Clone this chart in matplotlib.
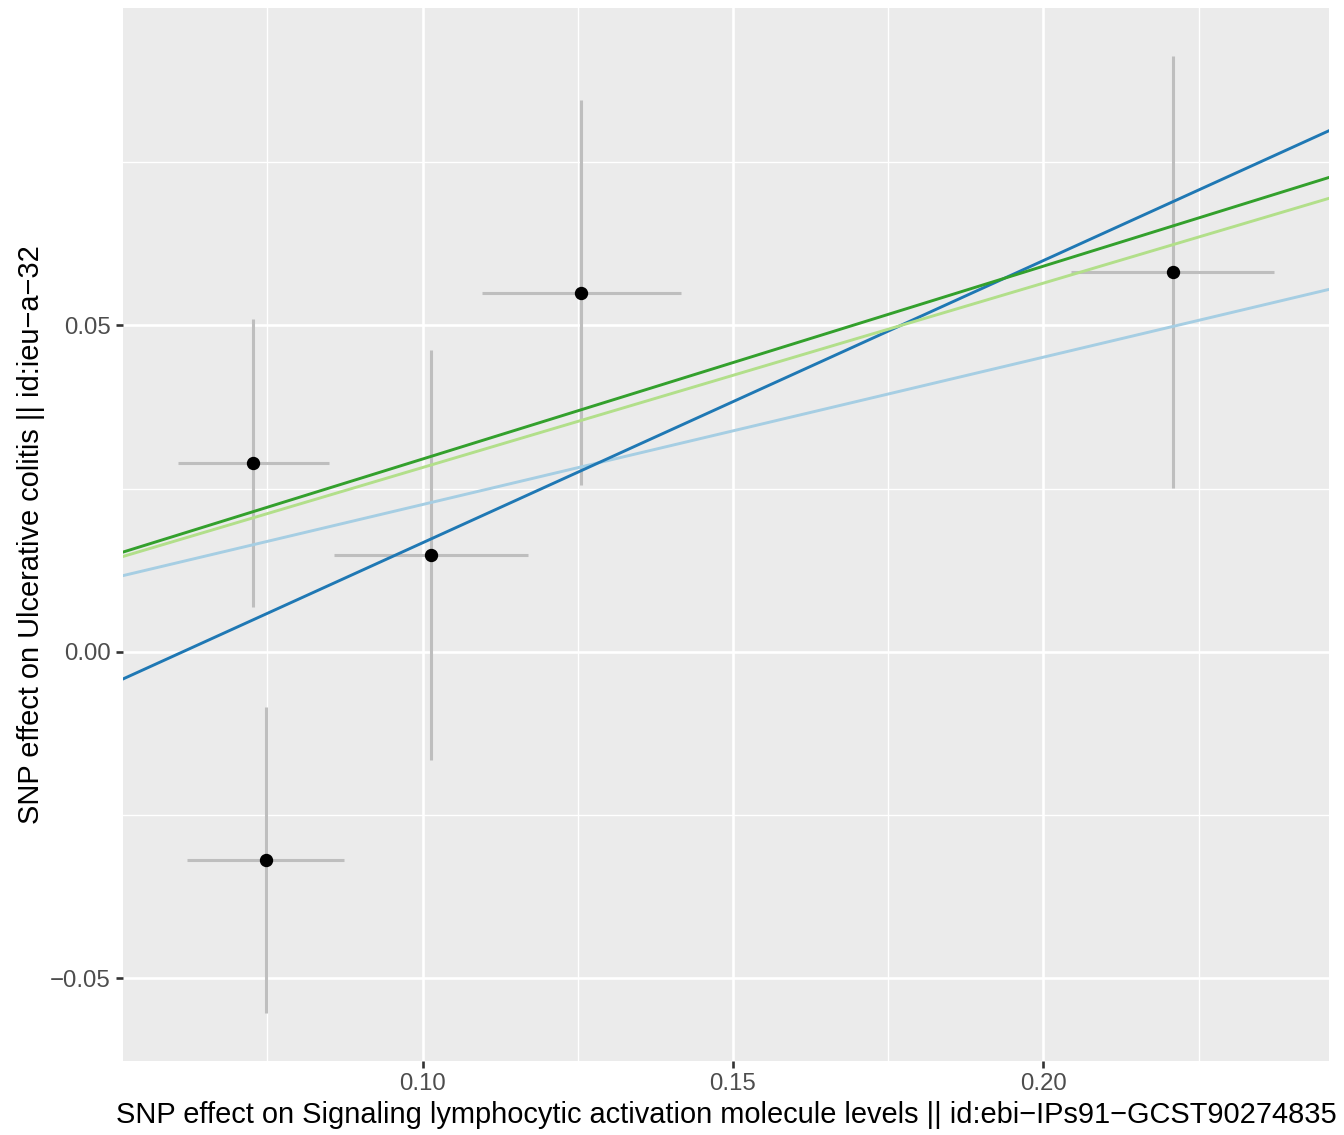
import numpy as np
import matplotlib
matplotlib.use("Agg")
import matplotlib.pyplot as plt

plt.rcParams['font.family'] = ['Liberation Sans', 'DejaVu Sans']

# SNP effects (beta and se for exposure / outcome)
beta_exposure = [0.07275, 0.07474, 0.10134, 0.12558, 0.22082]
se_exposure = [0.01217, 0.01266, 0.01566, 0.01603, 0.01635]
beta_outcome = [0.02894, -0.03185, 0.01490, 0.05502, 0.05819]
se_outcome = [0.02205, 0.02348, 0.03139, 0.02950, 0.03310]

# MR method fits (intercept, slope)
methods = ['Inverse variance weighted', 'MR Egger', 'Weighted median', 'Weighted mode']
method_intercepts = [0.0, -0.02652, 0.0, 0.0]
method_slopes = [0.2257, 0.4323, 0.2824, 0.2954]
method_colors = ['#A6CEE3', '#1F78B4', '#B2DF8A', '#33A02C']

x_ticks = [0.10, 0.15, 0.20]
y_ticks = [-0.05, 0.00, 0.05]


def expand(lo, hi, mult=0.05):
    d = hi - lo
    return lo - mult * d, hi + mult * d


def draw_mr_scatter():
    bx = np.array(beta_exposure)
    sx = np.array(se_exposure)
    by = np.array(beta_outcome)
    sy = np.array(se_outcome)

    fig = plt.figure(figsize=(13.44, 11.35), dpi=100)
    ax = fig.add_axes([123 / 1344, 1 - 1061 / 1135, (1329 - 123) / 1344, (1061 - 8) / 1135])
    ax.set_facecolor('#EBEBEB')

    xlim = expand((bx - sx).min(), (bx + sx).max())
    ylim = expand((by - sy).min(), (by + sy).max())

    # grid like ggplot theme_grey
    for v in [0.075, 0.125, 0.175, 0.225]:
        ax.axvline(v, color='white', lw=0.95, zorder=0)
    for v in [-0.025, 0.025, 0.075]:
        ax.axhline(v, color='white', lw=0.95, zorder=0)
    for v in x_ticks:
        ax.axvline(v, color='white', lw=1.9, zorder=0)
    for v in y_ticks:
        ax.axhline(v, color='white', lw=1.9, zorder=0)

    # error bars
    ax.vlines(bx, by - sy, by + sy, color='#BEBEBE', lw=2.2, zorder=2)
    ax.hlines(by, bx - sx, bx + sx, color='#BEBEBE', lw=2.2, zorder=2)
    ax.plot(bx, by, 'o', color='black', markersize=8.6, zorder=3)

    # regression lines
    xs = np.array(xlim)
    for a, b, c in zip(method_intercepts, method_slopes, method_colors):
        ax.plot(xs, a + b * xs, color=c, lw=2.1, zorder=4)

    ax.set_xlim(xlim)
    ax.set_ylim(ylim)
    ax.set_xticks(x_ticks)
    ax.set_xticklabels(['%.2f' % v for v in x_ticks])
    ax.set_yticks(y_ticks)
    ax.set_yticklabels(['\u22120.05', '0.00', '0.05'])
    ax.tick_params(axis='both', length=5.3, width=1.9, color='#333333',
                   labelcolor='#4D4D4D', labelsize=17.3, pad=3.5)
    for s in ax.spines.values():
        s.set_visible(False)

    ax.set_xlabel('SNP effect on Signaling lymphocytic activation molecule levels || id:ebi\u2212IPs91\u2212GCST90274835',
                  fontsize=20.9, color='black')
    ax.set_ylabel('SNP effect on Ulcerative colitis || id:ieu\u2212a\u221232',
                  fontsize=20.9, color='black')
    ax.xaxis.set_label_coords(0.5, -0.038)
    ax.yaxis.set_label_coords(-0.065, 0.5)

    fig.savefig('out.png', dpi=100)


if __name__ == '__main__':
    draw_mr_scatter()
